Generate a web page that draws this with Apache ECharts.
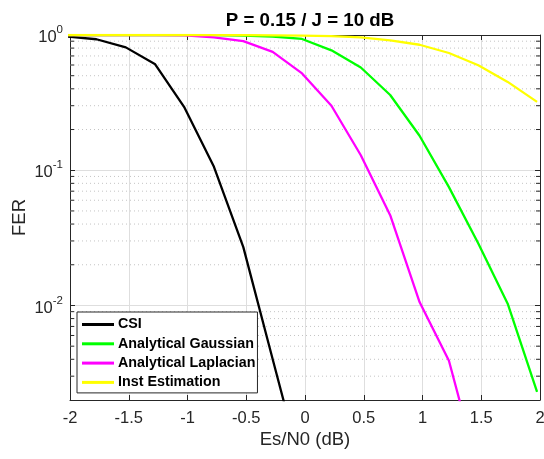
<!DOCTYPE html>
<html>
<head>
<meta charset="utf-8">
<script src="https://cdn.jsdelivr.net/npm/echarts@6/dist/echarts.min.js"></script>
<style>html,body{margin:0;padding:0;background:#fff;}#c{width:544px;height:459px;}</style>
</head>
<body>
<div id="c"></div>
<script>
// ---- data ----
const esn0 = [-2.025, -1.775, -1.525, -1.275, -1.025, -0.775, -0.525, -0.275, -0.025, 0.225, 0.475, 0.725, 0.975, 1.225, 1.475, 1.725, 1.975];
const csi = [0.975, 0.93, 0.81, 0.607, 0.29, 0.106, 0.027, 0.004, 0.0006];
const gaussian = [0.999, 0.999, 0.999, 0.999, 0.999, 0.998, 0.99, 0.975, 0.935, 0.77, 0.575, 0.36, 0.18, 0.075, 0.0287, 0.0103, 0.0023];
const laplacian = [0.999, 0.999, 0.999, 0.998, 0.993, 0.96, 0.9, 0.75, 0.52, 0.3, 0.129, 0.0465, 0.0106, 0.0039, 0.0006];
const instEst = [1.0, 1.0, 1.0, 1.0, 1.0, 0.999, 0.998, 0.995, 0.99, 0.98, 0.96, 0.914, 0.847, 0.736, 0.597, 0.45, 0.32];
const seriesNames = ['CSI', 'Analytical Gaussian', 'Analytical Laplacian', 'Inst Estimation'];
const seriesColors = ['#000000', '#00ff00', '#ff00ff', '#ffff00'];
const xTicks = [-2, -1.5, -1, -0.5, 0, 0.5, 1, 1.5, 2];
const yMajor = [0.01, 0.1, 1];
const yMinor = [0.003, 0.004, 0.005, 0.006, 0.007, 0.008, 0.009, 0.02, 0.03, 0.04, 0.05, 0.06, 0.07, 0.08, 0.09, 0.2, 0.3, 0.4, 0.5, 0.6, 0.7, 0.8, 0.9];
const titleText = 'P = 0.15 / J = 10 dB';
const xName = 'Es/N0 (dB)';
const yName = 'FER';
const X_MIN = -2, X_MAX = 2, Y_MIN = 0.002, Y_MAX = 1;

// ---- chart ----
const FONT = '"Liberation Sans", Arial, Helvetica, sans-serif';
const AX = '#262626';
const chart = echarts.init(document.getElementById('c'), null, {renderer: 'canvas'});
const pairs = arr => arr.map((v, i) => [esn0[i], v]);
const dataSets = [csi, gaussian, laplacian, instEst];

const lineSeries = dataSets.map((d, i) => ({
  name: seriesNames[i],
  type: 'line',
  xAxisIndex: 0, yAxisIndex: 0,
  data: pairs(d),
  symbol: 'none',
  clip: true,
  lineStyle: {color: seriesColors[i], width: 2.3},
  itemStyle: {color: seriesColors[i]},
  z: 3 + i
}));

const minorSeries = {
  type: 'custom',
  name: 'minor',
  xAxisIndex: 0, yAxisIndex: 0,
  silent: true,
  z: 1,
  data: yMinor.map(v => [X_MIN, v]),
  encode: {x: 0, y: 1},
  renderItem: function (params, api) {
    const v = api.value(1);
    const p0 = api.coord([X_MIN, v]);
    const p1 = api.coord([X_MAX, v]);
    return {
      type: 'group',
      children: [
        {type: 'line', shape: {x1: p0[0], y1: p0[1], x2: p1[0], y2: p1[1]},
         style: {stroke: '#c4c4c4', lineWidth: 1, lineDash: [1, 3]}},
        {type: 'line', shape: {x1: p0[0], y1: p0[1], x2: p0[0] + 4, y2: p0[1]},
         style: {stroke: AX, lineWidth: 1}},
        {type: 'line', shape: {x1: p1[0] - 4, y1: p1[1], x2: p1[0], y2: p1[1]},
         style: {stroke: AX, lineWidth: 1}}
      ]
    };
  }
};

function yLabel(v) {
  const lg = Math.log10(v);
  const e = Math.round(lg);
  if (Math.abs(lg - e) > 1e-6) return '';
  return '{b|10}{s|' + e + '}';
}

const option = {
  animation: false,
  backgroundColor: '#ffffff',
  title: {
    text: titleText,
    left: 305, top: 6, textAlign: 'center',
    textStyle: {fontFamily: FONT, fontSize: 18.7, fontWeight: 'bold', color: '#000'}
  },
  legend: {
    data: seriesNames,
    orient: 'vertical',
    left: 77, top: 312,
    padding: [5, 2, 3, 5],
    itemGap: 4.3,
    itemWidth: 32, itemHeight: 3,
    icon: 'rect',
    backgroundColor: '#ffffff',
    borderColor: AX, borderWidth: 1, borderRadius: 0,
    selectedMode: false,
    textStyle: {fontFamily: FONT, fontSize: 14.3, fontWeight: 'bold', color: '#000', lineHeight: 15, padding: [0, 0, 0, -1]}
  },
  grid: {left: 70, right: 4, top: 35, bottom: 59, containLabel: false, outerBoundsMode: 'none'},
  xAxis: [{
    type: 'value', min: X_MIN, max: X_MAX, interval: 0.5,
    position: 'bottom',
    name: xName, nameLocation: 'middle', nameGap: 30, nameMoveOverlap: false,
    nameTextStyle: {fontFamily: FONT, fontSize: 18.5, color: AX},
    axisLine: {show: true, onZero: false, lineStyle: {color: AX, width: 1}},
    axisTick: {show: true, inside: true, length: 5, lineStyle: {color: AX}},
    axisLabel: {fontFamily: FONT, fontSize: 16.5, color: AX, margin: 10, formatter: v => String(v)},
    splitLine: {show: true, lineStyle: {color: '#dedede', width: 1}}
  }, {
    type: 'value', min: X_MIN, max: X_MAX, interval: 0.5,
    position: 'top',
    axisLine: {show: true, onZero: false, lineStyle: {color: AX, width: 1}},
    axisTick: {show: true, inside: true, length: 5, lineStyle: {color: AX}},
    axisLabel: {show: false},
    splitLine: {show: false}
  }],
  yAxis: [{
    type: 'log', logBase: 10, min: Y_MIN, max: Y_MAX,
    position: 'left',
    name: yName, nameLocation: 'middle', nameGap: 41, nameRotate: 90, nameMoveOverlap: false,
    nameTextStyle: {fontFamily: FONT, fontSize: 18.5, color: AX},
    axisLine: {show: true, onZero: false, lineStyle: {color: AX, width: 1}},
    axisTick: {show: true, inside: true, length: 5, lineStyle: {color: AX}},
    axisLabel: {
      fontFamily: FONT, color: AX, margin: 7,
      formatter: yLabel,
      rich: {
        b: {fontFamily: FONT, fontSize: 16.5, color: AX, lineHeight: 22, verticalAlign: 'bottom'},
        s: {fontFamily: FONT, fontSize: 11.5, color: AX, lineHeight: 22, verticalAlign: 'top'}
      }
    },
    splitLine: {show: true, lineStyle: {color: '#dedede', width: 1}}
  }, {
    type: 'log', logBase: 10, min: Y_MIN, max: Y_MAX,
    position: 'right',
    axisLine: {show: true, onZero: false, lineStyle: {color: AX, width: 1}},
    axisTick: {show: true, inside: true, length: 5, lineStyle: {color: AX}},
    axisLabel: {show: false},
    splitLine: {show: false}
  }],
  series: [minorSeries].concat(lineSeries)
};
chart.setOption(option);
</script>
</body>
</html>
